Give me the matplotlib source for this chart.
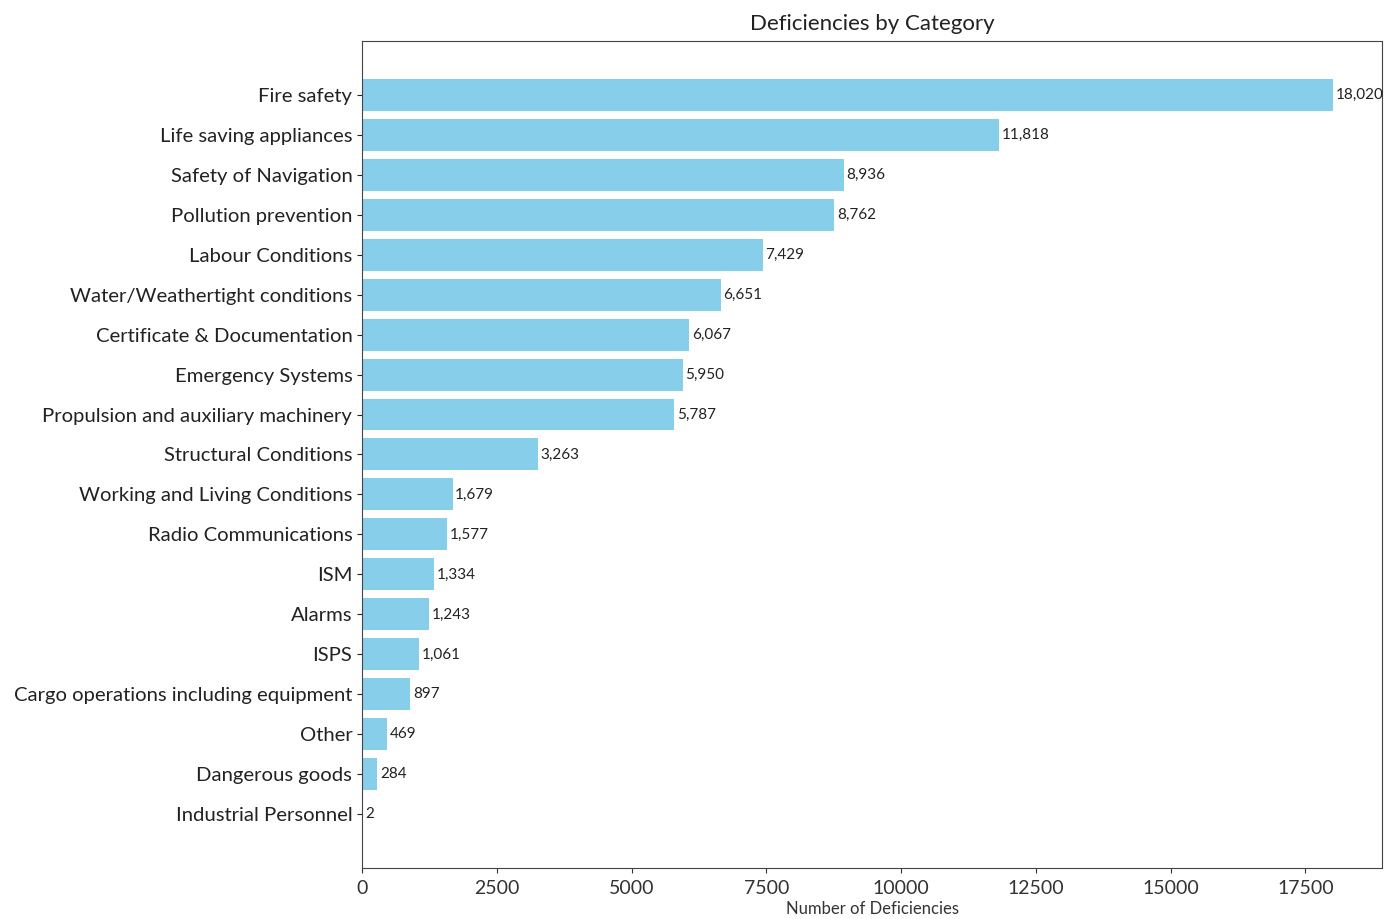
import matplotlib.pyplot as plt

# ---------------- DATA ----------------
categories = [
    "Fire safety", "Life saving appliances", "Safety of Navigation",
    "Pollution prevention", "Labour Conditions", "Water/Weathertight conditions",
    "Certificate & Documentation", "Emergency Systems",
    "Propulsion and auxiliary machinery", "Structural Conditions",
    "Working and Living Conditions", "Radio Communications", "ISM", "Alarms",
    "ISPS", "Cargo operations including equipment", "Other",
    "Dangerous goods", "Industrial Personnel",
]
counts = [18020, 11818, 8936, 8762, 7429, 6651, 6067, 5950, 5787, 3263,
          1679, 1577, 1334, 1243, 1061, 897, 469, 284, 2]

plt.rcParams['font.family'] = ['Lato', 'DejaVu Sans']

fig = plt.figure(figsize=(13.84, 9.19), dpi=100)
ax = fig.add_axes([0.2616, 0.0555, 0.737, 0.8999])

# plot reversed so the largest is on top
bars = ax.barh(categories[::-1], counts[::-1], color="skyblue")

for bar, val in zip(bars, counts[::-1]):
    ax.text(bar.get_width() + 50, bar.get_y() + bar.get_height() / 2,
            f"{val:,}", va="center", ha="left", fontsize=11, color="#222222")

ax.set_title("Deficiencies by Category", fontsize=16, color="#222222", pad=8)
ax.set_xlabel("Number of Deficiencies", fontsize=12, color="#333333", labelpad=3)
ax.tick_params(axis="y", labelsize=14.6, colors="#222222")
ax.tick_params(axis="x", labelsize=14, colors="#333333", pad=5)
for sp in ax.spines.values():
    sp.set_color("#444444")

fig.savefig("out.png", dpi=100)
